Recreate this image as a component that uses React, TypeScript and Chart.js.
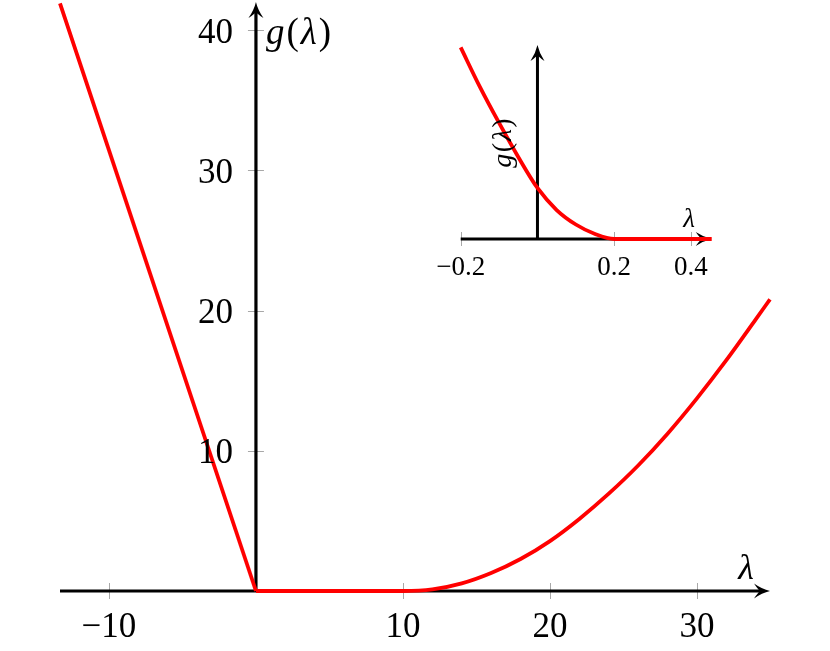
import React, { useEffect, useRef } from "react";
import { Chart, registerables } from "chart.js";
Chart.register(...registerables);

// ---- Main plot data ----
const leftLambda = [-13.33, 0];
const leftG = [41.9, 0];
const rightLambda = [0, 10, 12, 14, 16, 18, 20, 22, 24, 26, 28, 30, 32, 34, 34.97];
const rightG = [0, 0, 0.11, 0.54, 1.28, 2.28, 3.56, 5.14, 6.94, 8.95, 11.22, 13.74, 16.46, 19.37, 20.8];
const mainXTicks = [-10, 10, 20, 30];
const mainXTickLabels = ["\u221210", "10", "20", "30"];
const mainYTicks = [10, 20, 30, 40];
const mainYTickLabels = ["10", "20", "30", "40"];
const mainXRange = [-13.33, 34.97];
const mainYRange = [0, 42];

// ---- Inset data ----
const insetLambda = [-0.2, -0.15, -0.1, -0.05, 0, 0.05, 0.1, 0.15, 0.2, 0.3, 0.454];
const insetG = [0.16, 0.127, 0.0969, 0.0685, 0.0426, 0.0242, 0.0121, 0.0042, 0, 0, 0];
const insetXTicks = [-0.2, 0.2, 0.4];
const insetXTickLabels = ["\u22120.2", "0.2", "0.4"];
const insetXRange = [-0.2, 0.454];
const insetYRange = [0, 0.162];

const RED = "#ff0000";
const TICK_GREY = "#a8a8a8";
const SERIF = '"Liberation Serif", "Times New Roman", serif';

function arrowHead(ctx: CanvasRenderingContext2D, tx: number, ty: number, dx: number, dy: number, L: number, H: number) {
  const px = -dy, py = dx;
  const bx = tx - dx * L, by = ty - dy * L;
  const nx = tx - dx * L * 0.62, ny = ty - dy * L * 0.62;
  ctx.beginPath();
  ctx.moveTo(tx, ty);
  ctx.quadraticCurveTo(tx - dx * L * 0.5 + px * H * 0.25, ty - dy * L * 0.5 + py * H * 0.25, bx + px * H, by + py * H);
  ctx.quadraticCurveTo(tx - dx * L * 0.75 + px * H * 0.2, ty - dy * L * 0.75 + py * H * 0.2, nx, ny);
  ctx.quadraticCurveTo(tx - dx * L * 0.75 - px * H * 0.2, ty - dy * L * 0.75 - py * H * 0.2, bx - px * H, by - py * H);
  ctx.quadraticCurveTo(tx - dx * L * 0.5 - px * H * 0.25, ty - dy * L * 0.5 - py * H * 0.25, tx, ty);
  ctx.closePath();
  ctx.fill();
}

function drawMath(ctx: CanvasRenderingContext2D, parts: [string, boolean][], size: number, x: number, y: number, align: "left" | "center", gap = 0) {
  const fonts = parts.map(([, it]) => `${it ? "italic " : ""}${size}px ${SERIF}`);
  const widths = parts.map(([t], i) => {
    ctx.font = fonts[i];
    return ctx.measureText(t).width;
  });
  const total = widths.reduce((a, b) => a + b, 0) + gap * (parts.length - 1);
  let cx = align === "center" ? x - total / 2 : x;
  ctx.textAlign = "left";
  ctx.textBaseline = "alphabetic";
  parts.forEach(([t], i) => {
    ctx.font = fonts[i];
    ctx.fillText(t, cx, y);
    cx += widths[i] + gap;
  });
  return total;
}

const G_LAMBDA: [string, boolean][] = [["g", true], ["(", false], ["\u03bb", true], [")", false]];
const LAMBDA: [string, boolean][] = [["\u03bb", true]];

type AxesCfg = {
  xFrom: number; xTo: number; yFrom: number; yTo: number;
  xTicks: number[]; xTickLabels: string[];
  yTicks: number[]; yTickLabels: string[];
  tickHalf: number; axisWidth: number; arrowL: number; arrowH: number;
  tickFont: number; xLabelDrop: number; yLabelGap: number; yLabelDrop: number;
  labels: (ctx: CanvasRenderingContext2D, x0: number, y0: number, xTip: number, yTip: number) => void;
};

function makeAxesPlugin(cfg: AxesCfg) {
  return {
    id: "customAxes",
    beforeDatasetsDraw(chart: any) {
      const ctx: CanvasRenderingContext2D = chart.ctx;
      const xs = chart.scales.x, ys = chart.scales.y;
      const x0 = xs.getPixelForValue(0), y0 = ys.getPixelForValue(0);
      ctx.save();
      ctx.strokeStyle = TICK_GREY;
      ctx.lineWidth = 1;
      cfg.xTicks.forEach((t) => {
        const px = Math.round(xs.getPixelForValue(t)) + 0.5;
        ctx.beginPath();
        ctx.moveTo(px, y0 - cfg.tickHalf);
        ctx.lineTo(px, y0 + cfg.tickHalf);
        ctx.stroke();
      });
      cfg.yTicks.forEach((t) => {
        const py = Math.round(ys.getPixelForValue(t)) + 0.5;
        ctx.beginPath();
        ctx.moveTo(x0 - cfg.tickHalf, py);
        ctx.lineTo(x0 + cfg.tickHalf, py);
        ctx.stroke();
      });
      ctx.strokeStyle = "#000";
      ctx.fillStyle = "#000";
      ctx.lineWidth = cfg.axisWidth;
      const xStart = xs.getPixelForValue(cfg.xFrom), xTip = xs.getPixelForValue(cfg.xTo);
      const yStart = ys.getPixelForValue(cfg.yFrom), yTip = ys.getPixelForValue(cfg.yTo);
      ctx.beginPath();
      ctx.moveTo(xStart, y0);
      ctx.lineTo(xTip - cfg.arrowL * 0.5, y0);
      ctx.stroke();
      arrowHead(ctx, xTip, y0, 1, 0, cfg.arrowL, cfg.arrowH);
      ctx.beginPath();
      ctx.moveTo(x0, yStart);
      ctx.lineTo(x0, yTip + cfg.arrowL * 0.5);
      ctx.stroke();
      arrowHead(ctx, x0, yTip, 0, -1, cfg.arrowL, cfg.arrowH);
      ctx.restore();
    },
    afterDatasetsDraw(chart: any) {
      const ctx: CanvasRenderingContext2D = chart.ctx;
      const xs = chart.scales.x, ys = chart.scales.y;
      const x0 = xs.getPixelForValue(0), y0 = ys.getPixelForValue(0);
      ctx.save();
      ctx.fillStyle = "#000";
      ctx.font = `${cfg.tickFont}px ${SERIF}`;
      ctx.textBaseline = "alphabetic";
      ctx.textAlign = "center";
      cfg.xTicks.forEach((t, i) => {
        ctx.fillText(cfg.xTickLabels[i], xs.getPixelForValue(t), y0 + cfg.xLabelDrop);
      });
      ctx.textAlign = "right";
      cfg.yTicks.forEach((t, i) => {
        ctx.fillText(cfg.yTickLabels[i], x0 - cfg.yLabelGap, ys.getPixelForValue(t) + cfg.yLabelDrop);
      });
      cfg.labels(ctx, x0, y0, xs.getPixelForValue(cfg.xTo), ys.getPixelForValue(cfg.yTo));
      ctx.restore();
    },
  };
}

const mainAxes = makeAxesPlugin({
  xFrom: mainXRange[0], xTo: mainXRange[1], yFrom: 0, yTo: mainYRange[1],
  xTicks: mainXTicks, xTickLabels: mainXTickLabels,
  yTicks: mainYTicks, yTickLabels: mainYTickLabels,
  tickHalf: 8, axisWidth: 3.2, arrowL: 16, arrowH: 7.5,
  tickFont: 35, xLabelDrop: 46, yLabelGap: 23, yLabelDrop: 12.7,
  labels: (ctx, x0, y0, xTip, yTip) => {
    drawMath(ctx, LAMBDA, 36, xTip - 24, y0 - 12, "center");
    drawMath(ctx, G_LAMBDA, 37, x0 + 10, yTip + 42, "left", 2);
  },
});

const insetAxes = makeAxesPlugin({
  xFrom: insetXRange[0], xTo: insetXRange[1], yFrom: 0, yTo: insetYRange[1],
  xTicks: insetXTicks, xTickLabels: insetXTickLabels,
  yTicks: [], yTickLabels: [],
  tickHalf: 7, axisWidth: 3.0, arrowL: 16, arrowH: 7,
  tickFont: 27, xLabelDrop: 36, yLabelGap: 0, yLabelDrop: 0,
  labels: (ctx, x0, y0, xTip) => {
    drawMath(ctx, LAMBDA, 27, xTip - 22.7, y0 - 12.3, "center");
    ctx.save();
    ctx.translate(x0 - 26.5, 113);
    ctx.rotate(-Math.PI / 2);
    drawMath(ctx, G_LAMBDA, 28, 0, 0, "center", 1.5);
    ctx.restore();
  },
});

const lineStyle = {
  borderColor: RED,
  borderWidth: 3.8,
  pointRadius: 0,
  fill: false,
  clip: false as any,
  borderJoinStyle: "round" as const,
};

export default function App() {
  const mainRef = useRef<HTMLCanvasElement>(null);
  const insetRef = useRef<HTMLCanvasElement>(null);

  useEffect(() => {
    const main = new Chart(mainRef.current!, {
      type: "line",
      data: {
        datasets: [
          { ...lineStyle, data: leftLambda.map((x, i) => ({ x, y: leftG[i] })), tension: 0 },
          { ...lineStyle, data: rightLambda.map((x, i) => ({ x, y: rightG[i] })), cubicInterpolationMode: "monotone" },
        ],
      },
      options: {
        responsive: false,
        animation: false,
        devicePixelRatio: 1,
        events: [],
        layout: { padding: { left: 60, right: 60, top: 2, bottom: 60 } },
        scales: {
          x: { type: "linear", min: mainXRange[0], max: mainXRange[1], display: false },
          y: { type: "linear", min: mainYRange[0], max: mainYRange[1], display: false },
        },
        plugins: { legend: { display: false }, tooltip: { enabled: false } },
      },
      plugins: [mainAxes],
    } as any);

    const inset = new Chart(insetRef.current!, {
      type: "line",
      data: {
        datasets: [
          { ...lineStyle, data: insetLambda.map((x, i) => ({ x, y: insetG[i] })), cubicInterpolationMode: "monotone" },
        ],
      },
      options: {
        responsive: false,
        animation: false,
        devicePixelRatio: 1,
        events: [],
        layout: { padding: { left: 40.7, right: 18.3, top: 15, bottom: 51 } },
        scales: {
          x: { type: "linear", min: insetXRange[0], max: insetXRange[1], display: false },
          y: { type: "linear", min: insetYRange[0], max: insetYRange[1], display: false },
        },
        plugins: { legend: { display: false }, tooltip: { enabled: false } },
      },
      plugins: [insetAxes],
    } as any);

    return () => {
      main.destroy();
      inset.destroy();
    };
  }, []);

  return (
    <div style={{ position: "absolute", left: 0, top: 0, width: 830, height: 651, background: "#fff", overflow: "hidden" }}>
      <canvas ref={mainRef} width={830} height={651} style={{ position: "absolute", left: 0, top: 0, width: 830, height: 651 }} />
      <canvas ref={insetRef} width={310} height={260} style={{ position: "absolute", left: 420, top: 30, width: 310, height: 260 }} />
    </div>
  );
}
